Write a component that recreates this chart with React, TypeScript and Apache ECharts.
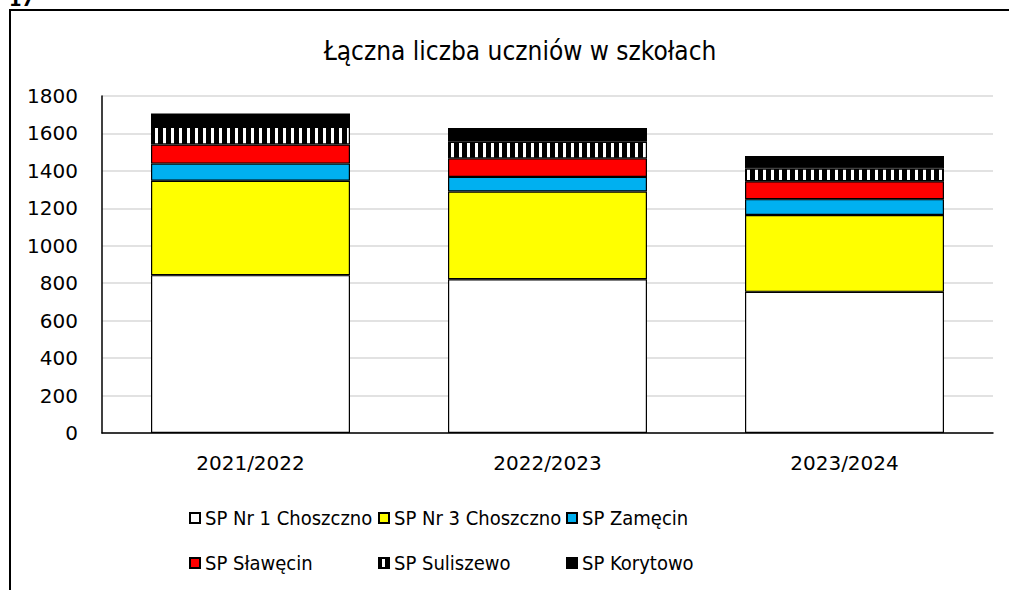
import React, { useEffect, useRef } from "react";
import * as echarts from "echarts";

const categories = ["2021/2022", "2022/2023", "2023/2024"];
const seriesNames = [
  "SP Nr 1 Choszczno",
  "SP Nr 3 Choszczno",
  "SP Zamęcin",
  "SP Sławęcin",
  "SP Suliszewo",
  "SP Korytowo",
];
const spNr1 = [843, 821, 754];
const spNr3 = [504, 469, 410];
const spZamecin = [92, 78, 85];
const spSlawecin = [102, 99, 96];
const spSuliszewo = [94, 89, 68];
const spKorytowo = [72, 73, 67];
const yTicks = [0, 1800, 200];
const titleText = "Łączna liczba uczniów w szkołach";

const FONT_C = "'DejaVu Sans Condensed', 'DejaVu Sans', sans-serif";
const FONT = "'DejaVu Sans', sans-serif";

function makeHatch(): HTMLCanvasElement {
  const c = document.createElement("canvas");
  c.width = 8;
  c.height = 8;
  const ctx = c.getContext("2d")!;
  ctx.fillStyle = "#000";
  ctx.fillRect(0, 0, 8, 8);
  ctx.fillStyle = "#fff";
  ctx.fillRect(3, 0, 3, 8);
  return c;
}

export default function App() {
  const ref = useRef<HTMLDivElement>(null);
  useEffect(() => {
    document.body.style.margin = "0";
    const chart = echarts.init(ref.current!, null, { renderer: "svg" });
    const hatch = { image: makeHatch(), repeat: "repeat" };
    const fills: any[] = ["#ffffff", "#ffff00", "#00b0f0", "#ff0000", hatch, "#000000"];
    const values = [spNr1, spNr3, spZamecin, spSlawecin, spSuliszewo, spKorytowo];
    const colX = [189, 378, 566];
    const rowY = [508, 553];
    const legends = seriesNames.map((name, i) => ({
      left: colX[i % 3],
      top: rowY[Math.floor(i / 3)],
      orient: "horizontal",
      icon: "rect",
      itemWidth: 10,
      itemHeight: 10,
      padding: 0,
      textStyle: { fontFamily: FONT_C, fontSize: 20, color: "#000" },
      data: [name],
    }));
    chart.setOption({
      animation: false,
      backgroundColor: "#fff",
      title: {
        text: titleText,
        left: 515,
        top: 33,
        textAlign: "center",
        textStyle: { fontFamily: FONT_C, fontSize: 26, fontWeight: "normal", color: "#000" },
      },
      legend: legends,
      grid: { left: 102, right: 16, top: 96, bottom: 157, containLabel: false },
      xAxis: {
        type: "category",
        data: categories,
        axisTick: { show: false },
        axisLine: { lineStyle: { color: "#000", width: 1.5 } },
        axisLabel: { fontFamily: FONT, fontSize: 20, color: "#000", margin: 20 },
      },
      yAxis: {
        type: "value",
        min: yTicks[0],
        max: yTicks[1],
        interval: yTicks[2],
        axisLine: { show: true, lineStyle: { color: "#000", width: 1.5 } },
        axisTick: { show: false },
        splitLine: { lineStyle: { color: "#d9d9d9", width: 1.5 } },
        axisLabel: {
          fontFamily: FONT,
          fontSize: 20,
          color: "#000",
          margin: 24,
          formatter: (v: number) => String(v),
        },
      },
      series: seriesNames.map((name, i) => ({
        name,
        type: "bar",
        stack: "total",
        data: values[i],
        barCategoryGap: "33%",
        itemStyle: { color: fills[i], borderColor: "#000", borderWidth: 1.2 },
        emphasis: { disabled: true },
      })),
      graphic: [
        {
          type: "rect",
          shape: { x: 10, y: 10, width: 1100, height: 700 },
          style: { fill: "none", stroke: "#000", lineWidth: 2 },
          silent: true,
        },
        {
          type: "text",
          x: 9,
          y: 8,
          style: { text: "17", font: "bold 18px 'DejaVu Sans'", fill: "#000", verticalAlign: "bottom" },
          silent: true,
        },
      ],
    });
    return () => chart.dispose();
  }, []);
  return <div ref={ref} style={{ width: 1009, height: 590 }} />;
}
